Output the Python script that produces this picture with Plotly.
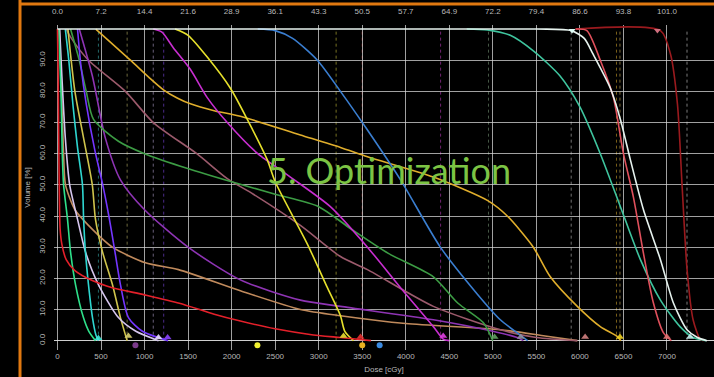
import plotly.graph_objects as go

# Dose-volume histogram: dose in cGy, volume in %
red_dose = [0, 8, 18, 30, 50, 100, 200, 400, 630, 1000, 1400, 1800, 2100, 2500, 2900, 3250, 3500, 3600]
red_vol = [100, 85, 55, 36, 31, 26, 22.5, 19.3, 17, 14.7, 12, 8.5, 6.3, 3.8, 2, 1, 0.3, 0]

green_dose = [15, 40, 55, 70, 115, 150, 207, 298, 360, 436]
green_vol = [100, 80, 60, 50, 39, 28.5, 18, 7.4, 3, 0]

lavender_dose = [25, 50, 90, 140, 230, 321, 470, 700, 900, 1160]
lavender_vol = [100, 85, 65, 50, 39, 28.5, 18, 7.4, 3, 0]

cyan_dose = [90, 130, 180, 230, 287, 300, 321, 356, 402, 440, 470]
cyan_vol = [100, 90, 75, 62, 50, 39, 28.5, 18, 7.4, 2, 0]

olive_dose = [120, 200, 300, 400, 436, 517, 631, 723, 800]
olive_vol = [100, 80, 65, 50, 39, 28.5, 18, 7.4, 0]

violet_dose = [230, 270, 330, 430, 520, 590, 660, 723, 815, 975, 1270]
violet_vol = [100, 88, 76, 61, 50, 40, 28.5, 18, 7.4, 3, 0]

plum_dose = [250, 400, 550, 723, 1000, 1500, 2100, 2790, 3250, 4317, 5000, 5280, 5350]
plum_vol = [100, 85, 65, 51.6, 42, 30, 19.5, 13, 11, 6.7, 3, 1, 0]

mauve_dose = [100, 160, 356, 780, 1100, 1600, 1950, 2250, 2790, 3250, 3560, 4317, 5086, 5500, 5970]
mauve_vol = [100, 97, 90, 80, 70, 60, 52, 47, 37, 27, 22.8, 11, 3.5, 1, 0]

tan_dose = [20, 40, 70, 92, 200, 356, 631, 1010, 1390, 2100, 2790, 3250, 4000, 5086, 5600, 5970]
tan_vol = [100, 85, 60, 50, 42, 37, 30, 25, 22.8, 16, 10, 8, 5.5, 3.5, 1.5, 0]

dkgreen_dose = [150, 250, 330, 414, 700, 1000, 1412, 2000, 2500, 3000, 3364, 3800, 4317, 4600, 4890, 5000]
dkgreen_vol = [100, 90, 80, 71, 64, 60, 56, 51, 47, 43, 36, 28, 20.5, 12, 5.8, 0]

golden_dose = [440, 838, 1050, 1217, 1380, 1527, 1800, 2100, 2790, 3250, 3560, 4317, 4937, 5166, 5465, 5660,
               5970, 6234, 6430, 6470]
golden_vol = [100, 90, 84.5, 80.5, 77.8, 76, 73.8, 72, 66, 62, 59, 52.5, 45, 40, 30, 20.5, 11, 4.5, 1.3, 0]

yellow_dose = [1350, 1500, 1720, 1986, 2180, 2410, 2500, 2870, 3100, 3250, 3300, 3400]
yellow_vol = [100, 98, 91, 81, 71, 58, 51, 31, 17, 8, 3, 0]

magenta_dose = [1100, 1200, 1330, 1527, 1720, 1950, 2300, 2675, 3134, 3560, 3940, 4317, 4430, 4500]
magenta_vol = [100, 99, 94, 87, 78, 70, 60, 52.5, 43, 30, 17, 4.5, 0.5, 0]

blue_dose = [2300, 2500, 2700, 2985, 3250, 3560, 3940, 4397, 4820, 5086, 5280, 5400]
blue_vol = [100, 99.5, 97, 90, 80, 67.6, 51.6, 30, 15, 6.7, 2.5, 0]

teal_dose = [4700, 4937, 5200, 5465, 5770, 6000, 6234, 6465, 6695, 6925, 7150, 7300, 7450]
teal_vol = [100, 99.7, 98, 93, 85, 75, 60, 43, 26, 13, 4.5, 1, 0]

white_dose = [0, 5500, 5900, 6050, 6150, 6350, 6465, 6580, 6730, 6925, 7075, 7230, 7350, 7460]
white_vol = [100, 100, 99.5, 97, 92, 81, 71, 58, 42, 26, 12, 3.5, 1, 0]

rose_dose = [5950, 6080, 6234, 6385, 6500, 6615, 6730, 6845, 6960, 7050]
rose_vol = [100, 99.5, 90, 78, 60, 46, 28, 12, 2.5, 0]

darkred_dose = [5950, 6925, 7040, 7120, 7175, 7230, 7300, 7380, 7420]
darkred_vol = [100, 99.5, 92, 76, 49, 23, 6.7, 0.5, 0]

curves = [
    (tan_dose, tan_vol, "#c08a5c"),
    (mauve_dose, mauve_vol, "#9c5a6c"),
    (plum_dose, plum_vol, "#8e34b4"),
    (dkgreen_dose, dkgreen_vol, "#3c9c44"),
    (golden_dose, golden_vol, "#e0ae2c"),
    (blue_dose, blue_vol, "#3a7ed0"),
    (magenta_dose, magenta_vol, "#c82ed0"),
    (yellow_dose, yellow_vol, "#e6e02c"),
    (olive_dose, olive_vol, "#cfc44c"),
    (violet_dose, violet_vol, "#7436ff"),
    (lavender_dose, lavender_vol, "#d6c6ee"),
    (cyan_dose, cyan_vol, "#2ed6d0"),
    (green_dose, green_vol, "#2ee08a"),
    (red_dose, red_vol, "#e4202a"),
    (darkred_dose, darkred_vol, "#9a1a1e"),
    (teal_dose, teal_vol, "#3fc49e"),
    (rose_dose, rose_vol, "#e0505c"),
    (white_dose, white_vol, "#e6f2ee"),
]

# Objective markers along the dose axis
obj_tri_dose = [470, 815, 1160, 1265, 3285, 3480, 4430, 5020, 5320, 6060, 6460, 7000, 7265]
obj_tri_vol = [0.8, 1.5, 1.0, 1.0, 1.5, 1.2, 1.5, 1.2, 1.2, 1.2, 1.2, 1.2, 1.2]
obj_tri_color = ["#3ee8d8", "#d8d070", "#e8dcff", "#8a44ff", "#e8e030", "#e83030", "#e040e0",
                 "#60a060", "#9090a0", "#d08080", "#f0d020", "#e07070", "#c8f0f0"]
obj_dot_dose = [895, 2296, 3500, 3700]
obj_dot_color = ["#7a3a8a", "#f0f030", "#e8b020", "#3a8ae0"]
obj_top_dose = [5910, 6890]
obj_top_vol = [99.5, 99.5]
obj_top_color = ["#e0fff8", "#d07080"]

# Objective dose lines
obj_line_dose = [470, 800, 1100, 1220, 3200, 3500, 4400, 4950, 5900, 6420, 6460, 7230]
obj_line_color = ["#40c0c0", "#c8c070", "#c0b0e0", "#8a50ff", "#d8d040", "#e04040", "#d040d0",
                  "#80a080", "#d0d0d0", "#e0b030", "#e0c060", "#e0e0e0"]

# Top axis: percent of prescription (6930 cGy)
dose_ticks = list(range(0, 7001, 500))
pct_labels = ["0.0", "7.2", "14.4", "21.6", "28.9", "36.1", "43.3", "50.5", "57.7",
              "64.9", "72.2", "79.4", "86.6", "93.8", "101.0"]
vol_ticks = [0, 10, 20, 30, 40, 50, 60, 70, 80, 90]
vol_labels = ["0.0", "10.0", "20.0", "30.0", "40.0", "50.0", "60.0", "70.0", "80.0", "90.0"]

fig = go.Figure()

for d, v, c in curves:
    fig.add_trace(go.Scatter(x=d, y=v, mode="lines",
                             line=dict(color=c, width=1.6, shape="spline", smoothing=0.7),
                             hoverinfo="skip", showlegend=False))

fig.add_trace(go.Scatter(x=obj_tri_dose, y=obj_tri_vol, mode="markers",
                         marker=dict(symbol="triangle-up", size=7, color=obj_tri_color, opacity=0.9),
                         showlegend=False, hoverinfo="skip"))
fig.add_trace(go.Scatter(x=obj_dot_dose, y=[-1.5] * len(obj_dot_dose), mode="markers",
                         marker=dict(symbol="circle", size=6, color=obj_dot_color),
                         showlegend=False, hoverinfo="skip"))
fig.add_trace(go.Scatter(x=obj_top_dose, y=obj_top_vol, mode="markers",
                         marker=dict(symbol="triangle-down", size=6, color=obj_top_color),
                         showlegend=False, hoverinfo="skip"))
# invisible trace to activate the top axis
fig.add_trace(go.Scatter(x=[0, 7000], y=[0, 0], xaxis="x2", mode="markers",
                         marker=dict(opacity=0), showlegend=False, hoverinfo="skip"))

# plot area in pixels: left 54, top 25, width 660, height 325
PW, PH = 660.0, 325.0
shapes = []
for d, c in zip(obj_line_dose, obj_line_color):
    shapes.append(dict(type="line", xref="x", yref="y", x0=d, x1=d, y0=0, y1=100,
                       line=dict(color=c, width=1, dash="dot"), opacity=0.55, layer="below"))
# orange frame: left edge and top edge
shapes.append(dict(type="line", xref="paper", yref="paper",
                   x0=(20 - 54) / PW, x1=(20 - 54) / PW, y0=-27 / PH, y1=(377 - 27) / PH,
                   line=dict(color="#e07810", width=3)))
shapes.append(dict(type="line", xref="paper", yref="paper",
                   x0=(20 - 54) / PW, x1=1.0, y0=1 + 21 / PH, y1=1 + 21 / PH,
                   line=dict(color="#e07810", width=3)))
fig.update_layout(shapes=shapes)

fig.add_annotation(text="5. Optimization", x=0.508, y=0.555, xref="paper", yref="paper",
                   showarrow=False, font=dict(family="Lato", size=36, color="#7cc444"))

axis_font = dict(family="Liberation Sans", size=8, color="#b8b8b8")
fig.update_layout(
    width=714, height=377,
    margin=dict(l=54, r=0, t=25, b=27),
    paper_bgcolor="black", plot_bgcolor="black",
    xaxis=dict(range=[-40, 7540], tickvals=dose_ticks, ticktext=[str(t) for t in dose_ticks],
               showgrid=True, gridcolor="rgba(215,215,215,0.75)", gridwidth=1, zeroline=False,
               tickfont=axis_font, ticklen=0,
               title=dict(text="Dose [cGy]", font=axis_font, standoff=6)),
    xaxis2=dict(range=[-40, 7540], overlaying="x", side="top", tickvals=dose_ticks, ticktext=pct_labels,
                showgrid=False, zeroline=False, tickfont=axis_font, ticklen=0, ticklabelstandoff=8),
    yaxis=dict(range=[-3, 101.3], tickvals=vol_ticks, ticktext=vol_labels, tickangle=-90,
               showgrid=True, gridcolor="rgba(215,215,215,0.75)", gridwidth=1, zeroline=True,
               zerolinecolor="rgba(230,230,230,0.9)", zerolinewidth=1,
               tickfont=axis_font, ticklen=0, ticklabelstandoff=6,
               title=dict(text="Volume [%]", font=axis_font, standoff=6)),
)

fig.write_html("out.html")
